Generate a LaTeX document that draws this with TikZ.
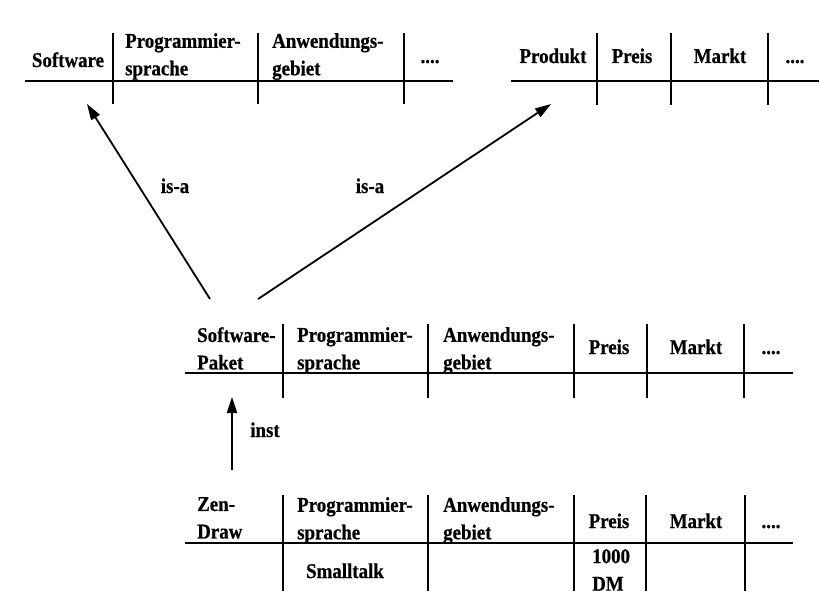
\documentclass[tikz,border=0pt]{standalone}
\usepackage{fontspec}
\setmainfont{Liberation Serif}[FakeStretch=0.9,BoldFeatures={FakeBold=0.6}]
\usetikzlibrary{arrows.meta}

\begin{document}
\begin{tikzpicture}[x=1pt,y=-1pt,
    cell/.style={font=\bfseries\fontsize{21}{27.5}\selectfont,align=left,inner sep=0pt},
    rule/.style={line width=2.2pt},
    link/.style={line width=1.8pt,-{Triangle[length=16pt,width=10pt]}}]
      \useasboundingbox (0,0) rectangle (819,599);
      % oberste Zeile links
      \draw[rule] (25,81) -- (453,81);
      \foreach \x in {113,258,404} \draw[rule] (\x,33) -- (\x,104);
      \node[cell,anchor=base] (sw) at (68,67) {Software};
      \node[cell,anchor=north west] (sw-ps) at (125,33) {Programmier-\\sprache};
      \node[cell,anchor=north west] (sw-ag) at (272,33) {Anwendungs-\\gebiet};
      \node[cell,anchor=base] (sw-dots) at (430,63) {....};
      % oberste Zeile rechts
      \draw[rule] (511,81) -- (819,81);
      \foreach \x in {597,671,768} \draw[rule] (\x,33) -- (\x,105);
      \node[cell,anchor=base] (pr) at (553,63) {Produkt};
      \node[cell,anchor=base] (pr-preis) at (632,63) {Preis};
      \node[cell,anchor=base] (pr-markt) at (720,63) {Markt};
      \node[cell,anchor=base] (pr-dots) at (795,63) {....};
      % Software-Paket
      \draw[rule] (185,373) -- (793,373);
      \foreach \x in {283,428,574,647,744} \draw[rule] (\x,324) -- (\x,398);
      \node[cell,anchor=north west] (sp) at (197,327) {Software-\\Paket};
      \node[cell,anchor=north west] (sp-ps) at (297,327) {Programmier-\\sprache};
      \node[cell,anchor=north west] (sp-ag) at (443,327) {Anwendungs-\\gebiet};
      \node[cell,anchor=base] (sp-preis) at (609,354) {Preis};
      \node[cell,anchor=base] (sp-markt) at (696,354) {Markt};
      \node[cell,anchor=base] (sp-dots) at (771,354) {....};
      % Zen-Draw
      \draw[rule] (185,543) -- (793,543);
      \foreach \x in {283,428,574,646,745} \draw[rule] (\x,495) -- (\x,591);
      \node[cell,anchor=north west] (zd) at (197,497) {Zen-\\Draw};
      \node[cell,anchor=north west] (zd-ps) at (297,497) {Programmier-\\sprache};
      \node[cell,anchor=north west] (zd-ag) at (443,497) {Anwendungs-\\gebiet};
      \node[cell,anchor=base] (zd-preis) at (609,528) {Preis};
      \node[cell,anchor=base] (zd-markt) at (696,528) {Markt};
      \node[cell,anchor=base] (zd-dots) at (771,528) {....};
      \node[cell,anchor=base] (zd-st) at (345,578) {Smalltalk};
      \node[cell,anchor=north west] (zd-dm) at (592,549) {1000\\DM};
      % Pfeile
      \coordinate (sw-in) at (87,104);
      \coordinate (pr-in) at (551,104);
      \coordinate (sp-out1) at (210,299);
      \coordinate (sp-out2) at (258,299);
      \coordinate (sp-in) at (232,397);
      \coordinate (zd-out) at (232,470);
      \draw[link] (sp-out1) -- (sw-in);
      \draw[link] (sp-out2) -- (pr-in);
      \draw[link] (zd-out) -- (sp-in);
      \node[cell,anchor=base] (isa1) at (175,193) {is-a};
      \node[cell,anchor=base] (isa2) at (370,193) {is-a};
      \node[cell,anchor=base] (inst) at (265,437) {inst};
    \end{tikzpicture}
\end{document}
